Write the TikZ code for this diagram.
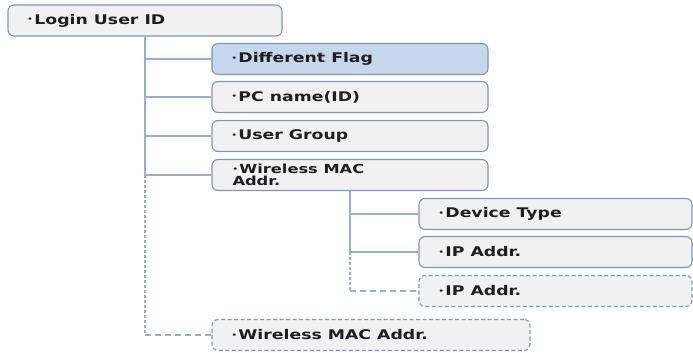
\documentclass[tikz,border=0pt]{standalone}
\usepackage{fontspec}
\newfontfamily\boxfont[FakeStretch=1.3]{DejaVu Sans Bold}
\definecolor{bordc}{HTML}{7F95B5}
\definecolor{fillg}{HTML}{F1F1F1}
\definecolor{fillb}{HTML}{C6D6EC}
\definecolor{linec}{HTML}{94AFD6}
\definecolor{txt}{HTML}{1E1E1E}
\tikzset{
  item/.style={draw=bordc, line width=1.1pt, fill=fillg, rounded corners=6pt,
    minimum height=31pt, inner xsep=0pt, inner ysep=0pt, align=left,
    font=\boxfont\fontsize{13.3}{15}\selectfont, text=txt, anchor=center},
  dashitem/.style={item, dash pattern=on 4pt off 2.5pt},
  conn/.style={draw=linec, line width=2pt},
  dconnv/.style={conn, dash pattern=on 2.5pt off 2.5pt},
  dconnh/.style={conn, dash pattern=on 6pt off 4pt}
}
\newcommand{\bul}{\raisebox{2.4pt}{\fontsize{6.5}{6.5}\selectfont •}\hspace{1.5pt}}
\newcommand{\itemtxt}[2]{\parbox{#1pt}{\hspace*{19.5pt}\bul#2}}
\begin{document}
\begin{tikzpicture}[x=1pt,y=-1pt]
\useasboundingbox (0,0) rectangle (693,353);
\node[item, minimum width=274pt] (login) at (145,20.5) {\itemtxt{274}{Login User ID}};
\node[item, fill=fillb, minimum width=276pt] (df) at (350,59) {\itemtxt{276}{Different Flag}};
\node[item, minimum width=276pt] (pc) at (350,97) {\itemtxt{276}{PC name(ID)}};
\node[item, minimum width=276pt] (ug) at (350,136) {\itemtxt{276}{User Group}};
\node[item, minimum width=276pt, font=\boxfont\fontsize{12.5}{13}\selectfont] (wm) at (350,175) {\parbox{276pt}{\hspace*{20.5pt}\parbox{220pt}{\lineskip=0pt\baselineskip=12.5pt \bul Wireless MAC\\Addr.}}};
\node[item, minimum width=273pt] (dt) at (555.5,214) {\itemtxt{273}{Device Type}};
\node[item, minimum width=273pt] (ip) at (555.5,252) {\itemtxt{273}{IP Addr.}};
\node[dashitem, minimum width=273pt] (ip2) at (555.5,291) {\itemtxt{273}{IP Addr.}};
\node[dashitem, minimum width=318pt] (wm2) at (371,335) {\itemtxt{318}{Wireless MAC Addr.}};
% first level connectors
\draw[conn] (login.south) -- (login.south |- wm.west);
\draw[conn] (login.south |- df.west) -- (df.west);
\draw[conn] (login.south |- pc.west) -- (pc.west);
\draw[conn] (login.south |- ug.west) -- (ug.west);
\draw[conn] (login.south |- wm.west) -- (wm.west);
\draw[dconnv] (login.south |- wm.west) -- (login.south |- wm2.west);
\draw[dconnh] (login.south |- wm2.west) -- (wm2.west);
% second level connectors
\draw[conn] (wm.south) -- (wm.south |- ip.west);
\draw[conn] (wm.south |- dt.west) -- (dt.west);
\draw[conn] (wm.south |- ip.west) -- (ip.west);
\draw[dconnv] (wm.south |- ip.west) -- (wm.south |- ip2.west);
\draw[dconnh] (wm.south |- ip2.west) -- (ip2.west);
\end{tikzpicture}
\end{document}
